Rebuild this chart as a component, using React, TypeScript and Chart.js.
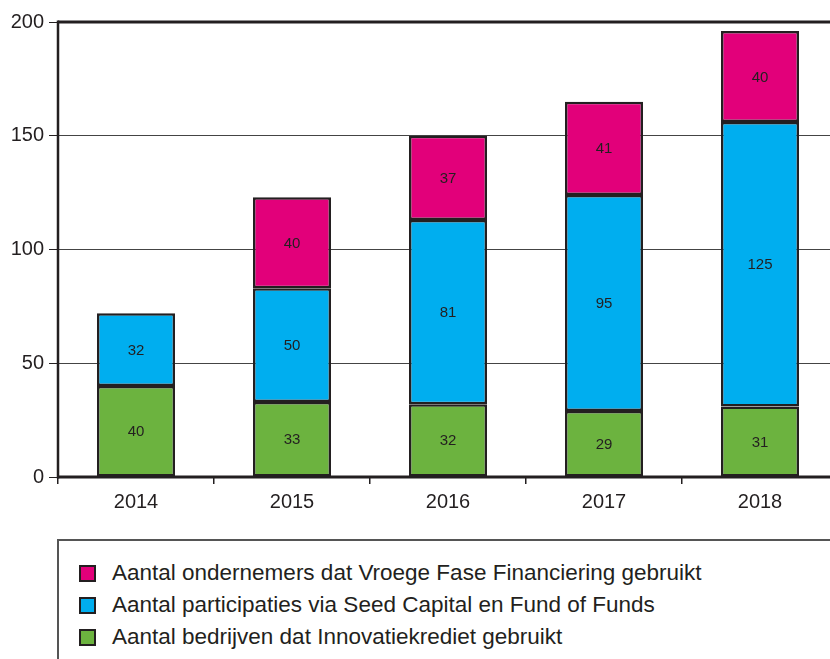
import React, { useEffect, useRef } from "react";
import { Chart, registerables } from "chart.js";

Chart.register(...registerables);

const years = ["2014", "2015", "2016", "2017", "2018"];
const innovatiekrediet = [40, 33, 32, 29, 31];
const seedCapital = [32, 50, 81, 95, 125];
const vroegeFase = [null, 40, 37, 41, 40];
const yTicks = [0, 50, 100, 150, 200];

const legendLabels = [
  "Aantal ondernemers dat Vroege Fase Financiering gebruikt",
  "Aantal participaties via Seed Capital en Fund of Funds",
  "Aantal bedrijven dat Innovatiekrediet gebruikt",
];

const MAGENTA = "#e2007a";
const CYAN = "#00aeef";
const GREEN = "#6cb33f";
const DARK = "#231f20";
const FONT = "'Liberation Sans', Arial, sans-serif";

const framePlugin = {
  id: "frame",
  beforeDatasetsDraw(chart: any) {
    const { ctx, chartArea } = chart;
    ctx.save();
    ctx.strokeStyle = DARK;
    ctx.lineWidth = 3;
    ctx.beginPath();
    ctx.moveTo(chartArea.left, chartArea.top);
    ctx.lineTo(chartArea.right + 10, chartArea.top);
    ctx.stroke();
    ctx.beginPath();
    ctx.moveTo(chartArea.left, chartArea.bottom);
    ctx.lineTo(chartArea.right + 10, chartArea.bottom);
    ctx.stroke();
    ctx.lineWidth = 2.5;
    ctx.beginPath();
    ctx.moveTo(chartArea.left, chartArea.top - 1.5);
    ctx.lineTo(chartArea.left, chartArea.bottom + 1.5);
    ctx.stroke();
    ctx.restore();
  },
};

const valueLabelPlugin = {
  id: "valueLabels",
  afterDatasetsDraw(chart: any) {
    const { ctx } = chart;
    ctx.save();
    ctx.font = `15px ${FONT}`;
    ctx.fillStyle = DARK;
    ctx.textAlign = "center";
    ctx.textBaseline = "middle";
    chart.data.datasets.forEach((ds: any, i: number) => {
      const meta = chart.getDatasetMeta(i);
      meta.data.forEach((bar: any, j: number) => {
        const v = ds.data[j];
        if (v === null || v === undefined) return;
        const y = (bar.y + bar.base) / 2;
        ctx.fillText(String(v), bar.x, y + 1);
      });
    });
    ctx.restore();
  },
};

export default function App() {
  const canvasRef = useRef<HTMLCanvasElement>(null);

  useEffect(() => {
    const canvas = canvasRef.current!;
    const barStyle = {
      borderColor: DARK,
      borderWidth: 2.5,
      borderSkipped: false,
      barPercentage: 0.5,
      categoryPercentage: 1,
    };
    const chart = new Chart(canvas, {
      type: "bar",
      data: {
        labels: years,
        datasets: [
          { label: legendLabels[2], data: innovatiekrediet, backgroundColor: GREEN, ...barStyle },
          { label: legendLabels[1], data: seedCapital, backgroundColor: CYAN, ...barStyle },
          { label: legendLabels[0], data: vroegeFase as any, backgroundColor: MAGENTA, ...barStyle },
        ],
      },
      options: {
        animation: false,
        responsive: false,
        maintainAspectRatio: false,
        layout: { padding: { left: 0, top: 22, right: 22, bottom: 0 } },
        plugins: { legend: { display: false }, tooltip: { enabled: false } },
        scales: {
          x: {
            stacked: true,
            offset: true,
            afterFit: (s: any) => { s.height = 53; },
            grid: {
              offset: true,
              drawOnChartArea: false,
              drawTicks: true,
              tickLength: 7,
              color: DARK,
              lineWidth: 1.5,
            },
            border: { display: false },
            ticks: { color: DARK, font: { family: FONT, size: 20 }, padding: 6 },
          },
          y: {
            stacked: true,
            min: 0,
            max: 200,
            afterFit: (s: any) => { s.width = 58; },
            afterBuildTicks: (s: any) => { s.ticks = yTicks.map((v) => ({ value: v })); },
            grid: {
              color: (c: any) => (c.tick && (c.tick.value === 0 || c.tick.value === 200) ? "rgba(0,0,0,0)" : "#444"),
              tickColor: DARK,
              lineWidth: 1,
              tickLength: 9,
              drawTicks: true,
            },
            border: { display: false },
            ticks: { color: DARK, font: { family: FONT, size: 20 }, padding: 5 },
          },
        },
      },
      plugins: [framePlugin, valueLabelPlugin],
    });
    return () => chart.destroy();
  }, []);

  const legendColors = [MAGENTA, CYAN, GREEN];

  return (
    <div style={{ position: "fixed", left: 0, top: 0, width: 830, height: 659, overflow: "hidden", background: "#fff" }}>
      <canvas ref={canvasRef} width={860} height={530} style={{ position: "absolute", left: 0, top: 0, width: 860, height: 530 }} />
      <div
        style={{
          position: "absolute",
          left: 57,
          top: 539,
          width: 800,
          height: 200,
          borderTop: `2px solid #555`,
          borderLeft: `2px solid #555`,
          fontFamily: FONT,
          fontSize: 22.5,
          color: DARK,
        }}
      >
        {legendLabels.map((l, i) => (
          <div key={l} style={{ position: "absolute", left: 20, top: 19 + i * 32, height: 26, display: "flex", alignItems: "center", whiteSpace: "nowrap" }}>
            <span style={{ display: "inline-block", width: 13, height: 13, background: legendColors[i], border: `2px solid ${DARK}`, marginRight: 16 }} />
            <span>{l}</span>
          </div>
        ))}
      </div>
    </div>
  );
}
